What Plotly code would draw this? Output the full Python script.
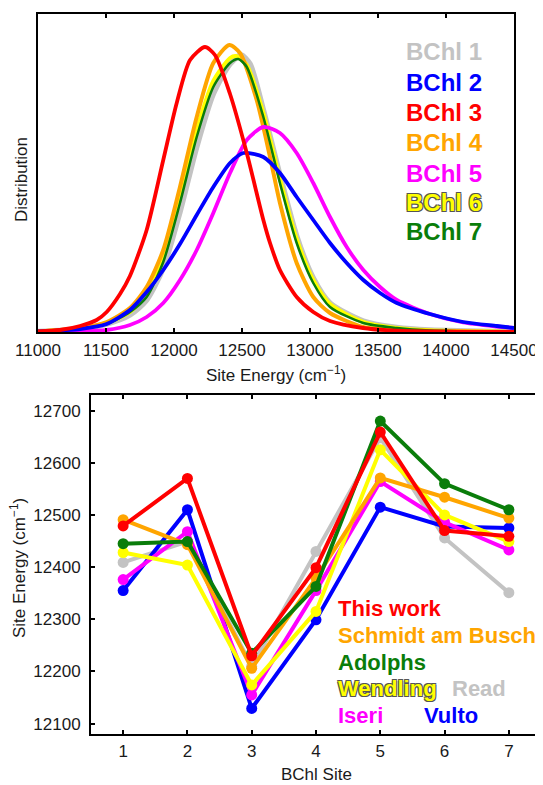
import plotly.graph_objects as go

# ---------------- data: top panel (site-energy distributions, arbitrary units) -------------
e_b1 = [11000, 11309, 11505, 11676, 11799, 11921, 12044, 12167, 12289, 12412, 12493, 12559, 12657, 12779, 12902, 13024, 13147, 13392, 13638, 13882, 14500]
d_b1 = [0.5, 3, 8, 17, 32, 64, 120, 185, 238, 268, 277, 268, 222, 157, 96, 54, 29, 11, 4.5, 2, 0.3]

e_b2 = [11000, 11162, 11309, 11505, 11676, 11799, 11921, 12044, 12167, 12289, 12412, 12510, 12657, 12779, 12902, 13024, 13147, 13270, 13392, 13515, 13638, 13882, 14127, 14373, 14500]
d_b2 = [0.5, 1.5, 3, 8, 22, 40, 62, 88, 117, 145, 169, 179, 175, 159, 135, 112, 89, 69, 52, 39, 29, 18, 10, 6, 4]

e_b3 = [11000, 11162, 11309, 11431, 11505, 11603, 11676, 11799, 11921, 12020, 12118, 12228, 12301, 12412, 12535, 12657, 12706, 12779, 12902, 13024, 13147, 13390, 13638, 14500]
d_b3 = [0.5, 2, 6, 12, 20, 38, 56, 102, 172, 229, 272, 285, 277, 238, 179, 112, 89, 62, 35, 20, 11, 4, 1.3, 0]

e_b4 = [11000, 11309, 11505, 11676, 11799, 11921, 12044, 12167, 12289, 12407, 12485, 12608, 12706, 12779, 12902, 13024, 13147, 13390, 13638, 14500]
d_b4 = [0.5, 4, 10, 24, 45, 82, 145, 215, 269, 287, 279, 232, 175, 129, 69, 35, 19, 5, 2, 0]

e_b5 = [11000, 11309, 11505, 11676, 11799, 11921, 12044, 12167, 12289, 12412, 12535, 12657, 12779, 12902, 13024, 13147, 13270, 13392, 13515, 13638, 13882, 14127, 14373, 14500]
d_b5 = [0, 0.5, 2, 7, 15, 29, 52, 82, 119, 159, 192, 205, 199, 179, 149, 115, 85, 62, 45, 32, 18, 9.5, 5.5, 4]

e_b6 = [11000, 11309, 11505, 11676, 11799, 11921, 12044, 12167, 12289, 12412, 12456, 12535, 12657, 12779, 12902, 13024, 13147, 13392, 13638, 13882, 14500]
d_b6 = [0.5, 3.5, 9, 20, 38, 75, 136, 202, 251, 274, 276, 267, 219, 153, 93, 52, 28, 10, 4, 1.8, 0.2]

e_b7 = [11000, 11309, 11505, 11676, 11799, 11921, 12044, 12167, 12289, 12412, 12473, 12535, 12657, 12779, 12902, 13024, 13147, 13392, 13638, 13882, 14500]
d_b7 = [0.5, 3, 8, 20, 35, 70, 129, 195, 245, 269, 273, 265, 215, 149, 89, 49, 25, 9, 4, 1.5, 0]

bchl_labels = ["BChl 1", "BChl 2", "BChl 3", "BChl 4", "BChl 5", "BChl 6", "BChl 7"]

# ---------------- data: bottom panel (site energies per model, cm^-1) -------------
sites = [1, 2, 3, 4, 5, 6, 7]
this_work = [12479, 12570, 12230, 12399, 12659, 12470, 12459]
schmidt = [12491, 12443, 12206, 12379, 12571, 12534, 12494]
adolphs = [12445, 12449, 12235, 12363, 12680, 12560, 12510]
wendling = [12428, 12404, 12174, 12315, 12625, 12500, 12449]
read = [12409, 12449, 12210, 12430, 12648, 12456, 12351]
iseri = [12376, 12468, 12155, 12355, 12564, 12486, 12433]
vulto = [12355, 12510, 12129, 12299, 12515, 12478, 12475]

model_names = ["This work", "Schmidt am Busch", "Adolphs", "Wendling", "Read", "Iseri", "Vulto"]
y_ticks = [12100, 12200, 12300, 12400, 12500, 12600, 12700]
x_ticks_top = [11000, 11500, 12000, 12500, 13000, 13500, 14000, 14500]

# ---------------- styling ----------------
# the page body has an 8px margin, so the figure is sized to fill the rest of the window
OFF = 8
W, H = 543 - OFF, 785 - OFF
FONT = "Liberation Sans, Arial, sans-serif"
GRAY = "#c3c3c3"
BLUE = "#0000ff"
RED = "#ff0000"
ORANGE = "#ffa500"
MAGENTA = "#ff00ff"
YELLOW = "#ffff00"
GREEN = "#0a7d0a"
TXT = "#1a1a1a"
OUTLINE = "-1px -1px 0 #555, 1px -1px 0 #555, -1px 1px 0 #555, 1px 1px 0 #555"

def px(xp):
    return (xp - OFF) / W

def py(yp):
    return 1 - (yp - OFF) / H

fig = go.Figure()

# top panel curves (drawing order: bottom to top)
top_series = [
    (e_b1, d_b1, GRAY, 5.5),
    (e_b6, d_b6, YELLOW, 4),
    (e_b4, d_b4, ORANGE, 4),
    (e_b7, d_b7, GREEN, 2.5),
    (e_b5, d_b5, MAGENTA, 3.8),
    (e_b2, d_b2, BLUE, 3.8),
    (e_b3, d_b3, RED, 3.8),
]
for e, d, c, w in top_series:
    fig.add_trace(go.Scatter(x=e, y=d, mode="lines", line=dict(color=c, width=w, shape="spline", smoothing=0.7),
                             xaxis="x", yaxis="y", showlegend=False, hoverinfo="skip"))

# bottom panel lines (drawing order: bottom to top)
bottom_series = [
    (read, GRAY),
    (vulto, BLUE),
    (iseri, MAGENTA),
    (wendling, YELLOW),
    (schmidt, ORANGE),
    (adolphs, GREEN),
    (this_work, RED),
]
for vals, c in bottom_series:
    fig.add_trace(go.Scatter(x=sites, y=vals, mode="lines+markers",
                             line=dict(color=c, width=4), marker=dict(color=c, size=11),
                             xaxis="x2", yaxis="y2", showlegend=False, hoverinfo="skip"))

axis_common = dict(showline=True, linecolor="black", linewidth=2, mirror="ticks",
                   ticks="inside", ticklen=4, tickwidth=1.5, tickcolor="black",
                   showgrid=False, zeroline=False, automargin=False, tickformat="d",
                   tickfont=dict(family=FONT, size=17, color=TXT))

fig.update_layout(
    width=W, height=H,
    margin=dict(l=0, r=0, t=0, b=0),
    paper_bgcolor="white", plot_bgcolor="white",
    showlegend=False,
    xaxis=dict(domain=[px(38), px(514)], range=[11000, 14500], anchor="y",
               tickvals=x_ticks_top, ticklabelstandoff=2, **axis_common),
    yaxis=dict(domain=[py(332), py(14)], range=[0, 318], anchor="x", automargin=False,
               showline=True, linecolor="black", linewidth=2, mirror=True,
               ticks="", showticklabels=False, showgrid=False, zeroline=False),
    xaxis2=dict(domain=[px(91), px(541)], range=[0.5, 7.5], anchor="y2",
                tickvals=sites, ticklabelstandoff=1, **axis_common),
    yaxis2=dict(domain=[py(734), py(395)], range=[12080, 12730], anchor="x2",
                tickvals=y_ticks, ticklabelstandoff=5, **axis_common),
)

ann = []
# axis titles
ann.append(dict(text="Site Energy (cm<sup>−1</sup>)", x=px(276), y=py(374), xref="paper", yref="paper",
                showarrow=False, font=dict(family=FONT, size=17, color=TXT), xanchor="center", yanchor="middle"))
ann.append(dict(text="Distribution", x=px(21), y=py(180), xref="paper", yref="paper", textangle=-90,
                showarrow=False, font=dict(family=FONT, size=17, color=TXT), xanchor="center", yanchor="middle"))
ann.append(dict(text="BChl Site", x=px(316), y=py(774), xref="paper", yref="paper",
                showarrow=False, font=dict(family=FONT, size=17, color=TXT), xanchor="center", yanchor="middle"))
ann.append(dict(text="Site Energy (cm<sup>−1</sup>)", x=px(18), y=py(568), xref="paper", yref="paper", textangle=-90,
                showarrow=False, font=dict(family=FONT, size=17, color=TXT), xanchor="center", yanchor="middle"))

# top legend labels
top_cols = [GRAY, BLUE, RED, ORANGE, MAGENTA, YELLOW, GREEN]
top_ys = [52, 82, 112, 142.5, 173, 203, 232]
for lab, c, yy in zip(bchl_labels, top_cols, top_ys):
    f = dict(family=FONT, size=24, color=c, weight="bold")
    if c == YELLOW:
        f["shadow"] = OUTLINE
    ann.append(dict(text=lab, x=px(405), y=py(yy), xref="paper", yref="paper", showarrow=False,
                    xanchor="left", yanchor="middle", borderpad=0, font=f))

# bottom legend labels
bot_pos = [(337, 608), (337, 635), (337, 662), (337, 688), (451, 688), (337, 715), (423, 715)]
bot_cols = [RED, ORANGE, GREEN, YELLOW, GRAY, MAGENTA, BLUE]
for lab, c, (xx, yy) in zip(model_names, bot_cols, bot_pos):
    f = dict(family=FONT, size=22, color=c, weight="bold")
    if c == YELLOW:
        f["shadow"] = OUTLINE
    ann.append(dict(text=lab, x=px(xx), y=py(yy), xref="paper", yref="paper", showarrow=False,
                    xanchor="left", yanchor="middle", borderpad=0, font=f))

fig.update_layout(annotations=ann)
fig.write_html("out.html")
